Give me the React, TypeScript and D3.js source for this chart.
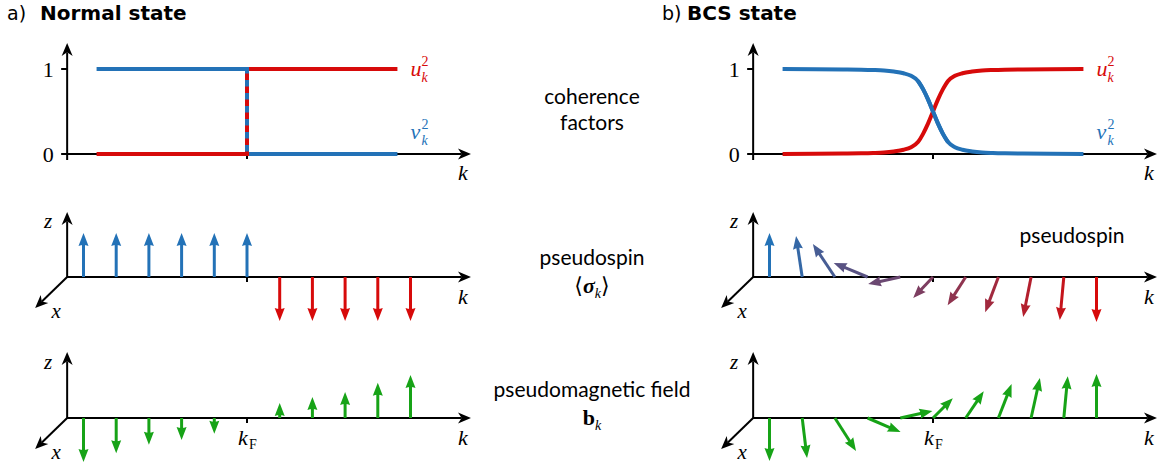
import React from "react";
import * as d3 from "d3";

const W = 1168;
const H = 465;

// k measured from the Fermi momentum; one arrow per unit step
const arrowK = [-5, -4, -3, -2, -1, 0, 1, 2, 3, 4, 5];

// coherence factors, normal state (sharp step at kF)
const normalCurveK = [-4.6, 0, 0, 4.6];
const normalU2 = [0, 0, 1, 1];
const normalV2 = [1, 1, 0, 0];

// coherence factors, BCS state (smeared over the gap region)
const bcsCurveK = [-4.6, -3.6, -2.75, -2.2, -1.83, -1.5, -1.2, -0.9, -0.67, -0.46, -0.3, -0.15, 0,
  0.15, 0.3, 0.46, 0.67, 0.9, 1.2, 1.5, 1.83, 2.2, 2.75, 3.6, 4.6];
const bcsU2 = [0, 0.002, 0.005, 0.008, 0.012, 0.018, 0.03, 0.05, 0.08, 0.14, 0.24, 0.36, 0.5,
  0.64, 0.76, 0.86, 0.92, 0.95, 0.97, 0.982, 0.988, 0.992, 0.995, 0.998, 1];
const bcsV2 = [1, 0.998, 0.995, 0.992, 0.988, 0.982, 0.97, 0.95, 0.92, 0.86, 0.76, 0.64, 0.5,
  0.36, 0.24, 0.14, 0.08, 0.05, 0.03, 0.018, 0.012, 0.008, 0.005, 0.002, 0];

// pseudospin <sigma_k>, normal state (z component only)
const normalSpinZ = [1, 1, 1, 1, 1, 1, -1, -1, -1, -1, -1];
// pseudomagnetic field b_k, normal state (z component only)
const normalFieldZ = [-1.0, -0.8, -0.61, -0.5, -0.36, 0, 0.34, 0.48, 0.59, 0.8, 0.98];

// pseudospin, BCS state: in-plane (projected) and z components
const bcsSpinH = [0, -0.14, -0.5, -0.77, -0.73, -0.45, -0.41, -0.3, -0.18, -0.09, 0];
const bcsSpinZ = [1.0, 0.93, 0.75, 0.32, -0.16, -0.48, -0.64, -0.8, -0.91, -0.98, -1.02];
// pseudomagnetic field, BCS state
const bcsFieldH = [0, 0.11, 0.48, 0.75, 0.73, 0.45, 0.41, 0.3, 0.2, 0.09, 0];
const bcsFieldZ = [-0.98, -0.91, -0.75, -0.32, 0.16, 0.45, 0.61, 0.77, 0.91, 0.95, 1.0];

const BLUE = "#2372b7";
const RED = "#d70a0a";
const GREEN = "#17a317";
const SANS = "Lato, 'Open Sans', sans-serif";
const TITLE = "'DejaVu Sans', sans-serif";
const SERIF = "'Liberation Serif', 'DejaVu Serif', serif";

type Pt = [number, number];

function Arrow({ from, to, color, width = 3, head = 13, hw = 5 }: { from: Pt; to: Pt; color: string; width?: number; head?: number; hw?: number }) {
  const dx = to[0] - from[0];
  const dy = to[1] - from[1];
  const len = Math.hypot(dx, dy);
  if (len < 1e-6) return null;
  const ux = dx / len;
  const uy = dy / len;
  const px = -uy;
  const py = ux;
  const h = Math.min(head, len);
  const bx = to[0] - ux * h;
  const by = to[1] - uy * h;
  const sx = to[0] - ux * (h - 2);
  const sy = to[1] - uy * (h - 2);
  return (
    <g>
      {len > h && <line x1={from[0]} y1={from[1]} x2={sx} y2={sy} stroke={color} strokeWidth={width} />}
      <path d={`M${to[0]},${to[1]} L${bx + px * hw},${by + py * hw} Q${bx + ux * 2},${by + uy * 2} ${bx - px * hw},${by - py * hw} Z`} fill={color} />
    </g>
  );
}

// axis arrow with stealth-style head
function AxisArrow({ from, to }: { from: Pt; to: Pt }) {
  const dx = to[0] - from[0];
  const dy = to[1] - from[1];
  const len = Math.hypot(dx, dy);
  const ux = dx / len;
  const uy = dy / len;
  const px = -uy;
  const py = ux;
  const L = 13;
  const hw = 5.5;
  const bx = to[0] - ux * L;
  const by = to[1] - uy * L;
  const nx = to[0] - ux * L * 0.72;
  const ny = to[1] - uy * L * 0.72;
  return (
    <g>
      <line x1={from[0]} y1={from[1]} x2={nx} y2={ny} stroke="#000" strokeWidth={2} />
      <path d={`M${to[0]},${to[1]} L${bx + px * hw},${by + py * hw} L${nx},${ny} L${bx - px * hw},${by - py * hw} Z`} fill="#000" />
    </g>
  );
}

function MathLabel({ x, y, base, sub, sup, color = "#000" }: { x: number; y: number; base: string; sub?: string; sup?: string; color?: string }) {
  return (
    <g fill={color} fontFamily={SERIF}>
      <text x={x} y={y} fontSize={22} fontStyle="italic">{base}</text>
      {sup && <text x={x + 11} y={y - 10} fontSize={14}>{sup}</text>}
      {sub && <text x={x + 11} y={y + 6} fontSize={14} fontStyle="italic">{sub}</text>}
    </g>
  );
}

function Panel({ kF, bcs }: { kF: number; bcs: boolean }) {
  const x = d3.scaleLinear().domain([-5, 5]).range([kF - 163.5, kF + 163.5]);
  const y = d3.scaleLinear().domain([0, 1]).range([154, 69]);
  const len = d3.scaleLinear().domain([0, 1]).range([0, 44]);
  // pseudospin colour runs from blue (spin up) to red (spin down) along k
  const spinColor = d3.scaleLinear<string>().domain([-5, 5]).range([BLUE, RED]).interpolate(d3.interpolateRgb);
  const ox = x(-5.5);
  const kEnd = x(6.85);
  const midY = 277;
  const botY = 418;

  const line = d3.line<[number, number]>().x((d) => x(d[0])).y((d) => y(d[1]));
  const curveLine = d3.line<[number, number]>().x((d) => x(d[0])).y((d) => y(d[1])).curve(d3.curveMonotoneX);

  const uPts: [number, number][] = bcs ? bcsCurveK.map((k, i) => [k, bcsU2[i]]) : normalCurveK.map((k, i) => [k, normalU2[i]]);
  const vPts: [number, number][] = bcs ? bcsCurveK.map((k, i) => [k, bcsV2[i]]) : normalCurveK.map((k, i) => [k, normalV2[i]]);
  const gen = bcs ? curveLine : line;

  const threeAxes = (y0: number, zTop: number) => (
    <g>
      <AxisArrow from={[ox, y0]} to={[kEnd, y0]} />
      <AxisArrow from={[ox, y0 + 1]} to={[ox, zTop]} />
      <AxisArrow from={[ox, y0]} to={[ox - 32, y0 + 31]} />
      <line x1={x(0)} y1={y0} x2={x(0)} y2={y0 + 5} stroke="#000" strokeWidth={2} />
      <text x={ox - 19} y={y0 - 49} fontFamily={SERIF} fontStyle="italic" fontSize={21} textAnchor="middle">z</text>
      <text x={ox - 11} y={y0 + 41} fontFamily={SERIF} fontStyle="italic" fontSize={21} textAnchor="middle">x</text>
      <text x={kEnd - 8} y={y0 + 27} fontFamily={SERIF} fontStyle="italic" fontSize={22} textAnchor="middle">k</text>
    </g>
  );

  return (
    <g>
      {/* coherence factors */}
      <AxisArrow from={[ox - 6, y(0)]} to={[kEnd, y(0)]} />
      <AxisArrow from={[ox, y(0) + 6]} to={[ox, 43]} />
      <line x1={ox - 6} y1={y(1)} x2={ox} y2={y(1)} stroke="#000" strokeWidth={2} />
      <line x1={x(0)} y1={y(0)} x2={x(0)} y2={y(0) + 5} stroke="#000" strokeWidth={2} />
      <text x={ox - 19} y={y(1) + 7.5} fontFamily={SERIF} fontSize={22} textAnchor="middle">1</text>
      <text x={ox - 19} y={y(0) + 7.5} fontFamily={SERIF} fontSize={22} textAnchor="middle">0</text>
      <text x={kEnd - 8} y={y(0) + 26} fontFamily={SERIF} fontStyle="italic" fontSize={22} textAnchor="middle">k</text>
      <path d={gen(vPts) ?? ""} fill="none" stroke={BLUE} strokeWidth={4} />
      <path d={gen(uPts) ?? ""} fill="none" stroke={RED} strokeWidth={4} />
      {!bcs && (
        <line x1={x(0)} y1={y(1) - 2} x2={x(0)} y2={y(0)} stroke={BLUE} strokeWidth={4} strokeDasharray="6.5 6.5" />
      )}
      {bcs && <path d={curveLine(vPts.filter((d) => d[0] >= -0.5 && d[0] <= 0.5)) ?? ""} fill="none" stroke={BLUE} strokeWidth={4} />}
      <MathLabel x={x(4.6) + 13} y={y(1) + 7} base="u" sub="k" sup="2" color={RED} />
      <MathLabel x={x(4.6) + 13} y={y(0) - 15} base="v" sub="k" sup="2" color={BLUE} />

      {/* pseudospin */}
      {threeAxes(midY, 212)}
      {arrowK.map((k, i) => {
        const h = bcs ? bcsSpinH[i] : 0;
        const z = bcs ? bcsSpinZ[i] : normalSpinZ[i];
        const c = bcs ? spinColor(k) : z > 0 ? BLUE : RED;
        const t0: Pt = [x(k), midY];
        const t1: Pt = [x(k) + Math.sign(h) * len(Math.abs(h)), midY - Math.sign(z) * len(Math.abs(z))];
        return <Arrow key={`s${i}`} from={t0} to={t1} color={c} />;
      })}

      {/* pseudomagnetic field */}
      {threeAxes(botY, 352)}
      {arrowK.map((k, i) => {
        const h = bcs ? bcsFieldH[i] : 0;
        const z = bcs ? bcsFieldZ[i] : normalFieldZ[i];
        if (Math.hypot(h, z) < 1e-6) return null;
        const t0: Pt = [x(k), botY];
        const t1: Pt = [x(k) + Math.sign(h) * len(Math.abs(h)), botY - Math.sign(z) * len(Math.abs(z))];
        return <Arrow key={`b${i}`} from={t0} to={t1} color={GREEN} />;
      })}
      <g fontFamily={SERIF}>
        <text x={x(0) - 9} y={botY + 27} fontSize={22} fontStyle="italic">k</text>
        <text x={x(0) + 2} y={botY + 31} fontSize={14}>F</text>
      </g>
    </g>
  );
}

export default function App() {
  return (
    <svg width={W} height={H} viewBox={`0 0 ${W} ${H}`} style={{ display: "block", position: "absolute", left: 0, top: 0, background: "#fff" }}>
      <g fontFamily={TITLE} fontSize={20}>
        <text x={7} y={20} fontSize={19}>a)</text>
        <text x={40} y={20} fontWeight="bold">Normal state</text>
        <text x={662} y={20} fontSize={19}>b)</text>
        <text x={687} y={20} fontWeight="bold">BCS state</text>
      </g>

      <Panel kF={247} bcs={false} />
      <Panel kF={933} bcs={true} />

      <g fontFamily={SANS} fontSize={21} textAnchor="middle">
        <text x={592} y={104}>coherence</text>
        <text x={592} y={130}>factors</text>
        <text x={592} y={265}>pseudospin</text>
        <text x={592} y={397}>pseudomagnetic field</text>
      </g>
      <text x={1072} y={243} fontFamily={SANS} fontSize={21} textAnchor="middle">pseudospin</text>
      <text x={592} y={293} fontFamily={SERIF} fontSize={22} textAnchor="middle">
        ⟨<tspan fontWeight="bold" fontStyle="italic">σ</tspan>
        <tspan fontSize={14} fontStyle="italic" dy={5}>k</tspan>
        <tspan dy={-5}>⟩</tspan>
      </text>
      <text x={592} y={425} fontFamily={SERIF} fontSize={22} textAnchor="middle">
        <tspan fontWeight="bold">b</tspan>
        <tspan fontSize={14} fontStyle="italic" dy={5}>k</tspan>
      </text>
    </svg>
  );
}
